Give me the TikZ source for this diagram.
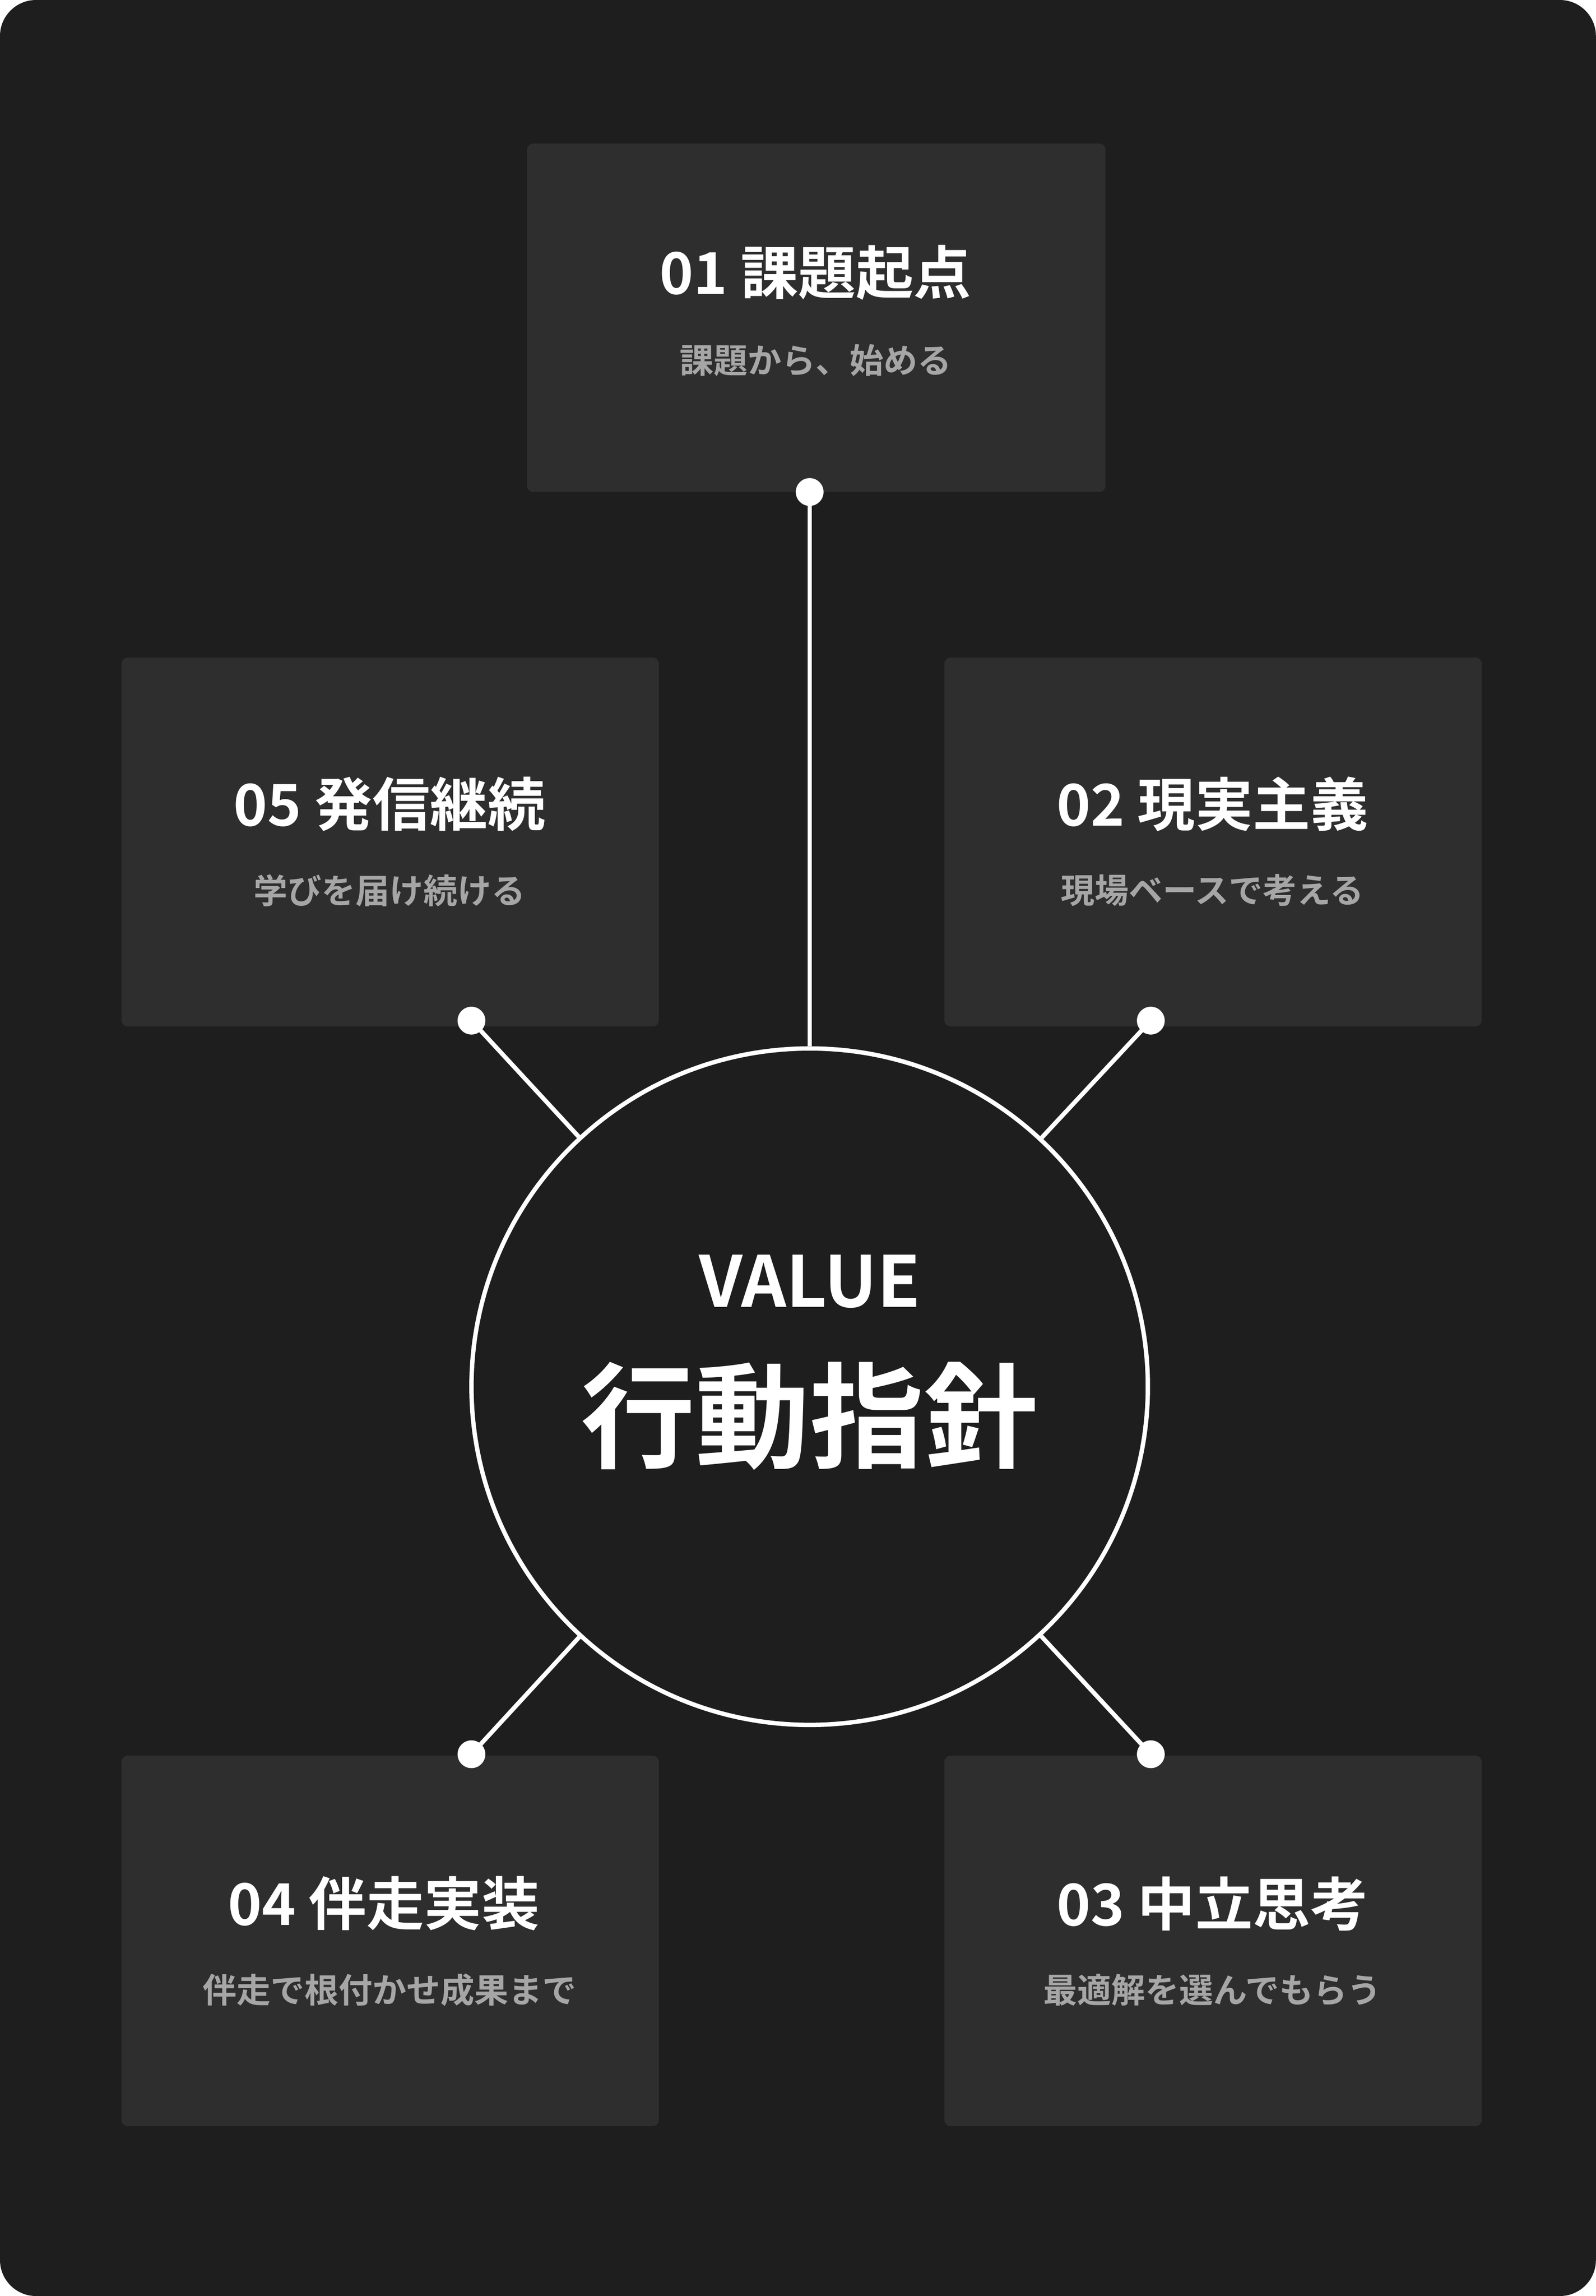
\documentclass[tikz,border=0pt]{standalone}
\usepackage{fontspec}
\setmainfont{Noto Sans CJK JP}[BoldFont={Noto Sans CJK JP Bold}]
\definecolor{bg}{HTML}{1E1E1E}
\definecolor{card}{HTML}{2E2E2E}
\definecolor{sub}{HTML}{A6A6A6}
\begin{document}
\begin{tikzpicture}[x=0.1cm,y=-0.1cm,
  cardbox/.style={fill=card,rounded corners=12pt,draw=none},
  ttl/.style={text=white,font=\bfseries\fontsize{112}{120}\selectfont,anchor=center},
  stl/.style={text=sub,font=\bfseries\fontsize{66}{72}\selectfont,anchor=center},
  conn/.style={white,line width=8.5pt},
  dot/.style={circle,fill=white,inner sep=0pt,minimum size=54pt}]
\useasboundingbox (0,0) rectangle (1090,1568);
\fill[white] (0,0) rectangle (1090,1568);
\fill[bg,rounded corners=70pt] (0,0) rectangle (1090,1568);
% cards
\fill[cardbox] (360,98) rectangle (755,336);
\fill[cardbox] (83,449) rectangle (450,701);
\fill[cardbox] (645,449) rectangle (1012,701);
\fill[cardbox] (83,1199) rectangle (450,1452);
\fill[cardbox] (645,1199) rectangle (1012,1452);
% circle
\node[circle,draw=white,line width=8.5pt,minimum size=46.2cm,inner sep=0pt] (c) at (553,947) {};
\node[dot] (d1) at (553,336) {};
\node[dot] (d5) at (322,697) {};
\node[dot] (d2) at (786,697) {};
\node[dot] (d4) at (322,1198) {};
\node[dot] (d3) at (786,1198) {};
\foreach \d in {d1,d2,d3,d4,d5} \draw[conn] (\d.center) -- (c);
% texts
\node[text=white,font=\bfseries\fontsize{137}{140}\selectfont] (v) at (553,875) {VALUE};
\node[text=white,font=\bfseries\fontsize{222}{230}\selectfont] (k) at (553,967) {行動指針};
\node[ttl] (t1) at (557,186) {01 課題起点};
\node[stl] (s1) at (557,246) {課題から、始める};
\node[ttl] (t5) at (266,549) {05 発信継続};
\node[stl] (s5) at (266,608) {学びを届け続ける};
\node[ttl] (t2) at (828,549) {02 現実主義};
\node[stl] (s2) at (828,608) {現場ベースで考える};
\node[ttl] (t4) at (262,1300) {04 伴走実装};
\node[stl] (s4) at (266,1359) {伴走で根付かせ成果まで};
\node[ttl] (t3) at (828,1300) {03 中立思考};
\node[stl] (s3) at (828,1359) {最適解を選んでもらう};
\end{tikzpicture}
\end{document}
